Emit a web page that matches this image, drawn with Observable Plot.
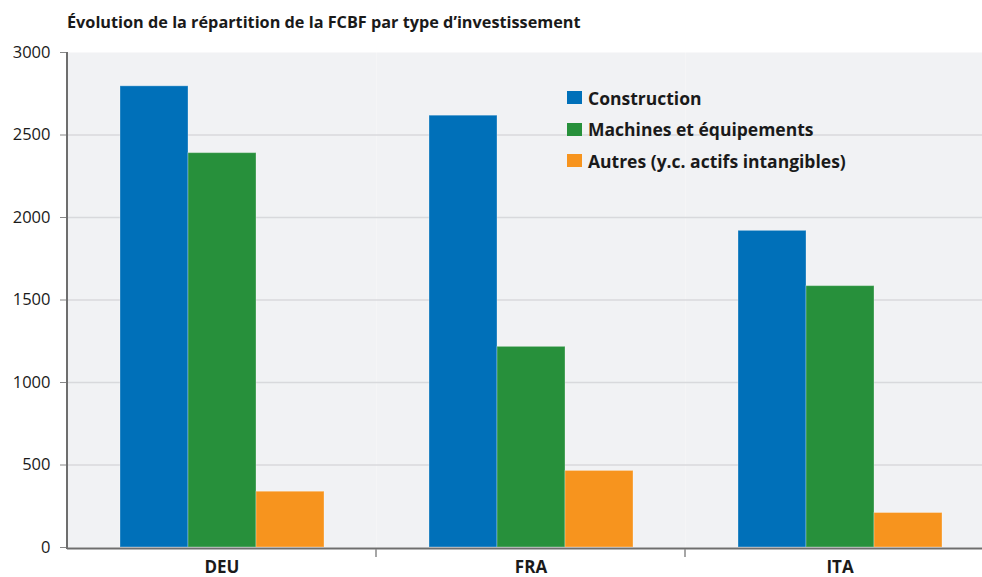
<!DOCTYPE html>
<html><head><meta charset="utf-8">
<script src="https://cdn.jsdelivr.net/npm/d3@7"></script>
<script src="https://cdn.jsdelivr.net/npm/@observablehq/plot@0.6"></script>
<style>
body{margin:0;background:#fff;font-family:"Open Sans", "Noto Sans", sans-serif;}
#wrap{position:relative;width:982px;height:577px;overflow:hidden;}
#title{position:absolute;left:67px;top:11px;font-weight:700;font-size:16.25px;color:#1a1a1a;white-space:nowrap;}
#chart{position:absolute;left:0;top:36px;}
#legend{position:absolute;left:567px;top:82px;}
.row{display:flex;align-items:center;height:31.5px;font-weight:700;font-size:17.5px;color:#1a1a1a;white-space:nowrap;}
.sw{width:15px;height:13px;margin-right:6px;flex:none;}
</style>
</head><body>
<div id="wrap">
  <div id="title">Évolution de la répartition de la FCBF par type d’investissement</div>
  <div id="chart"></div>
  <div id="legend"></div>
</div>
<script>
const countries = ["DEU", "FRA", "ITA"];
const types = ["Construction", "Machines et équipements", "Autres (y.c. actifs intangibles)"];
const construction = [2795, 2617, 1919];
const machines = [2390, 1216, 1584];
const autres = [338, 464, 209];
const colors = ["#0070b9", "#27903b", "#f7941e"];
const yTicks = [0, 500, 1000, 1500, 2000, 2500, 3000];

const series = [construction, machines, autres];
const table = [];
countries.forEach((c, i) => types.forEach((t, j) => table.push({country: c, type: t, value: series[j][i]})));

const plot = Plot.plot({
  width: 982, height: 541,
  marginLeft: 67, marginRight: -12, marginTop: 16, marginBottom: 30,
  style: {fontFamily: "'Open Sans', 'Noto Sans', sans-serif", fontSize: "16px", color: "#1a1a1a", background: "transparent"},
  fx: {domain: countries, padding: 0, label: null, axis: null},
  x: {domain: types, paddingInner: 0, paddingOuter: 0.76, axis: null},
  y: {domain: [0, 3000], axis: null},
  color: {domain: types, range: colors},
  marks: [
    Plot.frame({fill: "#f1f2f4", stroke: null}),
    Plot.gridY(yTicks.filter(t => t > 0 && t < 3000), {stroke: "#d8d9dc", strokeOpacity: 1, strokeWidth: 1.5}),
    Plot.barY(table, {fx: "country", x: "type", y: "value", fill: "type", stroke: "white", strokeOpacity: 0.3, strokeWidth: 1}),
    Plot.ruleY([0], {stroke: "#6e6e6e", strokeWidth: 2, dy: 1}),
    Plot.axisY({ticks: yTicks, tickFormat: d => String(d), tickSize: 7, tickPadding: 10, stroke: "#888", fill: "#1a1a1a", fontSize: 16.5, label: null}),
    Plot.axisFx({anchor: "bottom", tickSize: 0, tickPadding: 13, fontWeight: "bold", fontSize: 17, fill: "#1a1a1a", label: null})
  ]
});
document.getElementById("chart").appendChild(plot);

// axis line on the left and separators between groups, from the scales
const y = plot.scale("y"), fx = plot.scale("fx");
const svg = d3.select(plot.tagName.toLowerCase() === "svg" ? plot : plot.querySelector("svg"));
const x0 = fx.range[0];
svg.append("line").attr("x1", x0).attr("x2", x0).attr("y1", y.apply(3000)).attr("y2", y.apply(0) + 2)
  .attr("stroke", "#6e6e6e").attr("stroke-width", 2);
countries.slice(1).forEach(c => {
  const xs = fx.apply(c);
  svg.append("line").attr("x1", xs).attr("x2", xs).attr("y1", y.apply(0) + 2).attr("y2", y.apply(0) + 10)
    .attr("stroke", "#888").attr("stroke-width", 1.5);
});

const legend = d3.select("#legend");
types.forEach((t, i) => {
  const row = legend.append("div").attr("class", "row");
  row.append("div").attr("class", "sw").style("background", colors[i]);
  row.append("span").text(t);
});
</script>
</body></html>
